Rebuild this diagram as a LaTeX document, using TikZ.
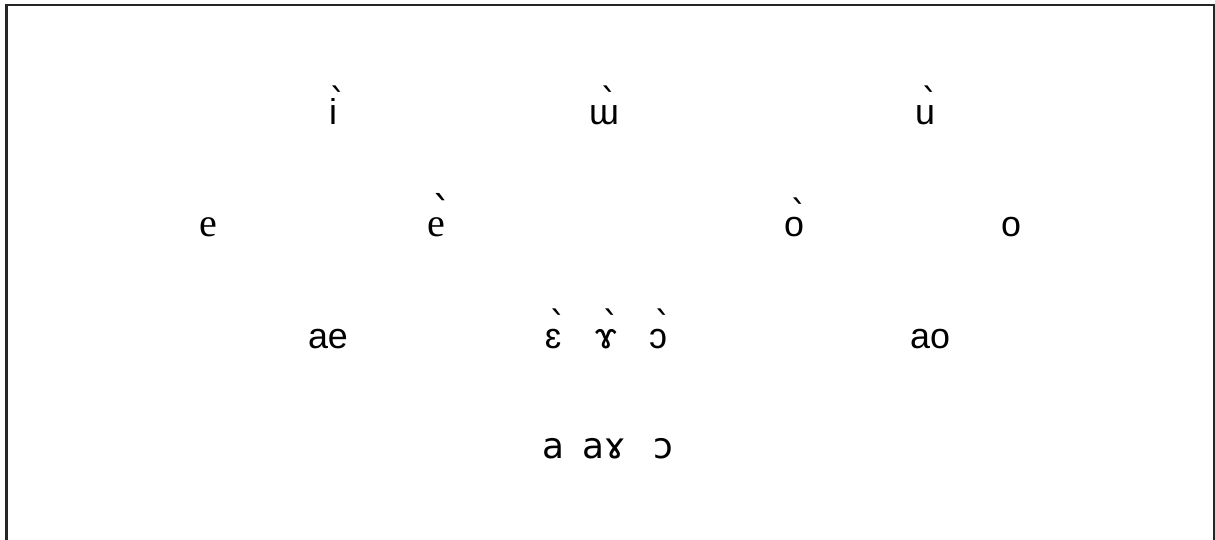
\documentclass[tikz,border=0pt]{standalone}
\usepackage{fontspec}
\setmainfont{Liberation Sans}
\newfontfamily\serifvowel{Liberation Serif}
\newfontfamily\ipafont{DejaVu Sans}
\usepackage{tikz}
\usetikzlibrary{positioning}

% grave accent set high above the letter, as in the chart
\newcommand{\hgrave}[1]{\ooalign{#1\cr\hidewidth\kern0.3em\raisebox{0.28em}{\ipafont\char"02CB}\hidewidth\cr}}

\tikzset{
  vowel/.style={anchor=base, inner sep=0pt, font=\fontsize{10.2pt}{12pt}\selectfont},
  serifv/.style={vowel, font=\fontsize{11.4pt}{13pt}\serifvowel},
  ipav/.style={vowel, font=\fontsize{10.2pt}{12pt}\ipafont},
  frameline/.style={line width=0.6pt, black!85}
}

\begin{document}
\begin{tikzpicture}[scale=1.0]
    % Page size
    \useasboundingbox (0,0) rectangle (12.15,-5.40);

    % Open frame (no bottom edge)
    \draw[frameline] (0.065,-5.40) -- (0.065,-0.05) -- (12.14,-0.05) -- (12.14,-5.40);

    % Close vowels
    \node[vowel] (iG) at (3.33,-1.25) {\hgrave{i}};
    \node[vowel] (wG) at (6.04,-1.25) {\hgrave{ɯ}};
    \node[vowel] (uG) at (9.25,-1.25) {\hgrave{u}};

    % Close-mid vowels
    \node[serifv] (e) at (2.08,-2.37) {e};
    \node[serifv] (eG) at (4.36,-2.37) {\hgrave{e}};
    \node[vowel] (oG) at (7.94,-2.37) {\hgrave{o}};
    \node[vowel] (o) at (10.11,-2.37) {o};

    % Open-mid vowels
    \node[vowel] (ae) at (3.28,-3.48) {ae};
    \node[vowel] (epsG) at (5.53,-3.48) {\hgrave{ɛ}};
    \node[vowel] (ramG) at (6.06,-3.48) {\hgrave{ɤ}};
    \node[vowel] (openoG) at (6.58,-3.48) {\hgrave{ɔ}};
    \node[vowel] (ao) at (9.30,-3.48) {ao};

    % Open vowels
    \node[ipav] (a) at (5.53,-4.58) {a};
    \node[ipav] (aram) at (6.04,-4.58) {aɤ};
    \node[ipav] (openo) at (6.63,-4.58) {ɔ};
\end{tikzpicture}
\end{document}
